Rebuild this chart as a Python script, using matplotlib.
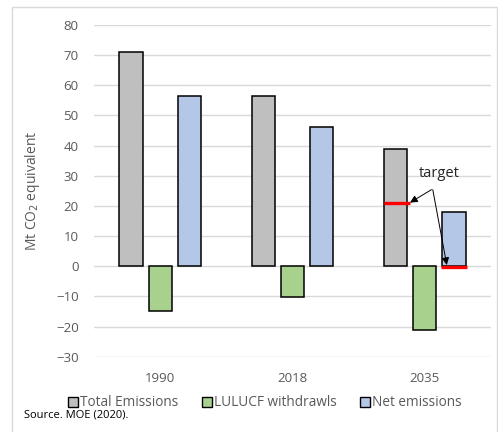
import matplotlib.pyplot as plt
import matplotlib as mpl
from matplotlib.patches import Rectangle, Patch
import numpy as np

mpl.rcParams['font.family'] = ['Open Sans', 'DejaVu Sans']

years = ['1990', '2018', '2035']
total = [71.0, 56.3, 39.0]
lulucf = [-14.7, -10.3, -21.0]
net = [56.4, 46.1, 18.1]
target_total = 21.0
target_net = -0.3

series = [
    ('Total Emissions', total, '#bfbfbf'),
    ('LULUCF withdrawls', lulucf, '#a9d18e'),
    ('Net emissions', net, '#b4c7e7'),
]

fig = plt.figure(figsize=(4.98, 4.32), dpi=100)
fig.patches.append(Rectangle((12 / 498, -0.01), 485 / 498, 1 - 7 / 432 + 0.01,
                             transform=fig.transFigure, fill=False,
                             edgecolor='#d9d9d9', lw=1.0))
ax = fig.add_axes([94 / 498, 1 - 356.7 / 432, 397 / 498, (356.7 - 25) / 432])

x = np.arange(len(years))
offset = 0.2215
width = 0.176
for i, (name, vals, col) in enumerate(series):
    ax.bar(x + (i - 1) * offset, vals, width, color=col, edgecolor='black',
           linewidth=1.1, label=name, zorder=3)

# target markers on 2035 bars
ax.hlines(target_total, 2 - offset - width / 2, 2 - offset + width / 2 + 0.02,
          color='#ff0000', lw=2.4, zorder=4)
ax.hlines(target_net, 2 + offset - width / 2 - 0.01, 2 + offset + width / 2 + 0.01,
          color='#ff0000', lw=2.4, zorder=4)

ax.text(2.107, 30.6, 'target', ha='center', va='center', fontsize=10.5, color='#262626')
ap = dict(arrowstyle='-|>', color='black', lw=0.7, mutation_scale=11, shrinkA=0, shrinkB=0)
ax.annotate('', xy=(1.888, 21.1), xytext=(2.05, 25.4), arrowprops=ap, zorder=5)
ax.annotate('', xy=(2.166, 0.4), xytext=(2.06, 25.4), arrowprops=ap, zorder=5)

ax.set_xlim(-0.5, 2.5)
ax.set_ylim(-30, 80)
ax.set_yticks(np.arange(-30, 81, 10))
ax.set_xticks(x)
ax.set_xticklabels(years)
ax.yaxis.grid(True, color='#d9d9d9', lw=1.0, zorder=0)
ax.set_axisbelow(True)
for s in ax.spines.values():
    s.set_visible(False)
ax.tick_params(axis='both', length=0, labelsize=9.5, colors='#595959')
ax.tick_params(axis='y', pad=11)
ax.tick_params(axis='x', pad=11)
ax.set_ylabel('Mt CO$_2$ equivalent', fontsize=10, color='#595959')
ax.yaxis.set_label_coords(-(94 - 42) / 397, 0.5)

handles = [Patch(facecolor=c, edgecolor='black', lw=1.0) for _, _, c in series]
fig.legend(handles, [n for n, _, _ in series], loc='center', ncol=3,
           bbox_to_anchor=(265 / 498, 1 - 403 / 432), frameon=False,
           fontsize=9.8, handlelength=0.75, handleheight=0.75, handletextpad=0.15,
           columnspacing=1.7, labelcolor='#595959', borderaxespad=0)

fig.text(24 / 498, 1 - 415 / 432, 'Source. MOE (2020).', fontsize=8, color='black',
         va='center', ha='left')

fig.savefig('out.png', dpi=100)
